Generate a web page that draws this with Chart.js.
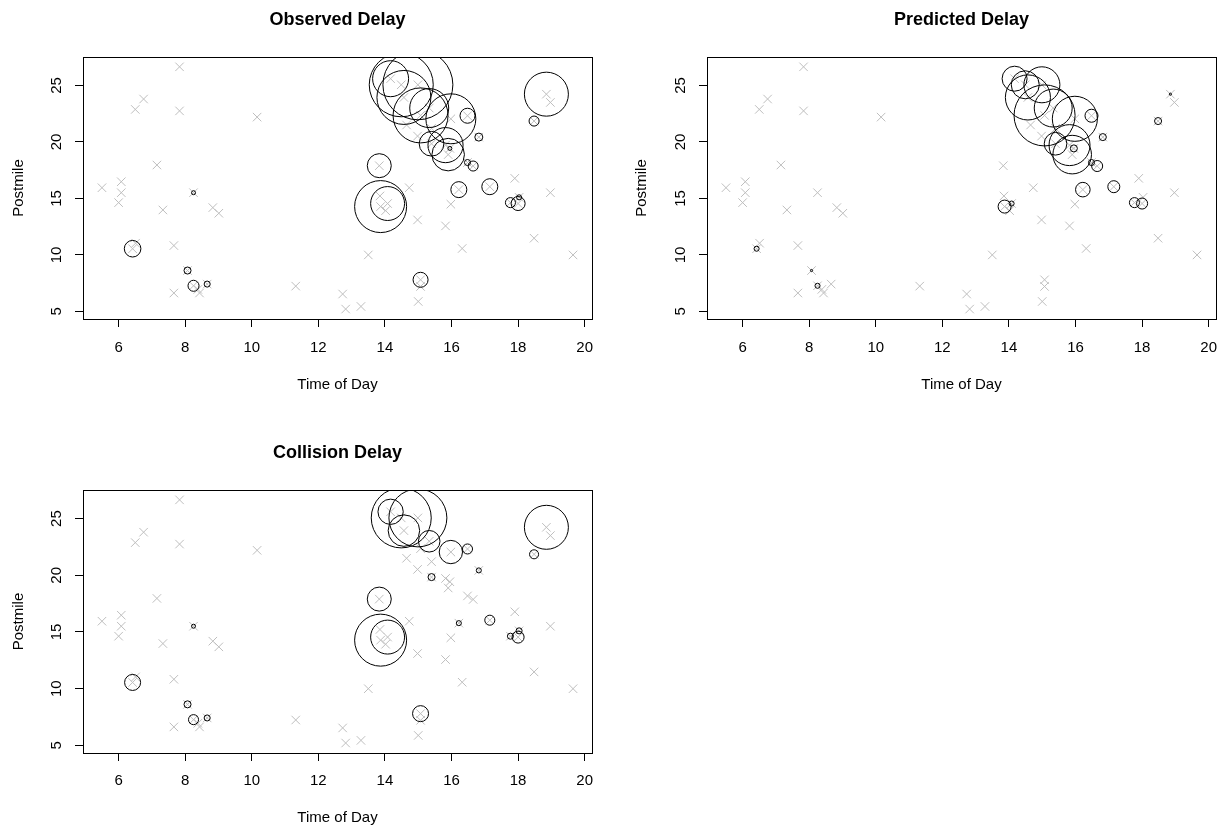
<!DOCTYPE html>
<html lang="en">
<head>
<meta charset="UTF-8">
<title>Observed, Predicted and Collision Delay</title>
<script src="https://cdn.jsdelivr.net/npm/chart.js"></script>
<style>
  body { margin: 0; background: #fff; overflow: hidden; }
  canvas { position: absolute; }
</style>
</head>
<body>
<canvas id="observed" width="610" height="414" style="left:0;top:0"></canvas>
<canvas id="predicted" width="611" height="414" style="left:610px;top:0"></canvas>
<canvas id="collision" width="610" height="414" style="left:0;top:414px"></canvas>
<script>
// incidents (grey x marks), same in every panel
const incidentTime = [
  5.50, 6.08, 6.08, 6.00, 6.50, 6.75, 7.83, 7.83, 7.15, 7.33,
  8.25, 8.83, 9.01, 6.42, 6.51, 7.66, 8.07, 8.25, 8.66, 7.66,
  8.43, 8.38, 11.32, 10.16, 12.73, 12.82, 13.28, 13.50, 15.07, 15.07,
  15.00, 13.83, 13.85, 13.87, 14.08, 14.02, 14.73, 14.98, 15.98, 15.82,
  16.32, 16.22, 17.15, 17.90, 17.77, 18.00, 18.03, 18.48, 18.97, 19.65,
  18.85, 18.97, 18.48, 16.82, 16.48, 16.65, 16.48, 15.95, 14.17, 14.49,
  14.99, 14.57, 15.33, 15.07, 14.65, 15.40, 14.98, 15.98, 15.40, 15.82, 15.90
];
const incidentPostmile = [
  15.95, 16.48, 15.51, 14.63, 22.88, 23.80, 26.65, 22.75, 17.96, 13.98,
  15.51, 14.19, 13.69, 10.55, 11.04, 10.83, 8.62, 7.27, 7.42, 6.63,
  6.63, 6.95, 7.24, 22.20, 6.54, 5.21, 5.44, 10.00, 7.80, 7.21,
  5.88, 17.90, 15.22, 14.28, 14.55, 13.92, 15.95, 13.10, 14.49, 12.57,
  10.57, 15.78, 16.04, 16.78, 14.63, 14.55, 15.10, 11.48, 15.51, 10.00,
  24.23, 23.50, 21.85, 20.43, 22.32, 17.87, 18.18, 19.43, 25.60, 25.06,
  25.06, 23.94, 23.00, 22.35, 21.50, 21.20, 20.52, 22.05, 19.84, 19.72, 18.88
];

// delay per incident (0 = no circle)
const observedDelay = [
  0, 0, 0, 0, 0, 0, 0, 0, 0, 0,
  1, 0, 0, 17.2, 0, 0, 3.1, 7.6, 2.3, 0,
  0, 0, 0, 0, 0, 0, 0, 0, 14.1, 0,
  0, 36, 0, 169, 72, 0, 0, 0, 0, 0,
  0, 16, 16, 0, 6.3, 12.3, 1.6, 0, 0, 0,
  121, 0, 6.3, 4, 14.1, 6.3, 2.3, 1, 81, 256,
  306, 182, 95, 189, 0, 0, 0, 156, 38, 77, 66
];
const predictedDelay = [
  0, 0, 0, 0, 0, 0, 0, 0, 0, 0,
  0, 0, 0, 1.6, 0, 0, 0.3, 1.6, 0, 0,
  0, 0, 0, 0, 0, 0, 0, 0, 0, 0,
  0, 0, 0, 10.6, 1.6, 0, 0, 0, 0, 0,
  0, 13.3, 9, 0, 6.3, 7.6, 0, 0, 0, 0,
  0.3, 0, 3.1, 3.1, 10.6, 7.6, 2.3, 3.1, 39, 49,
  81, 127, 90, 233, 0, 0, 0, 127, 32, 105, 93
];
const collisionDelay = [
  0, 0, 0, 0, 0, 0, 0, 0, 0, 0,
  1, 0, 0, 16, 0, 0, 3.1, 6.3, 2.3, 0,
  0, 0, 0, 0, 0, 0, 0, 0, 16, 0,
  0, 36, 0, 169, 72, 0, 0, 0, 0, 0,
  0, 1.6, 6.3, 0, 2.3, 9, 2.3, 0, 0, 0,
  121, 0, 5.1, 1.6, 6.3, 0, 0, 0, 40, 225,
  210, 62, 29, 0, 0, 0, 0, 34, 3.1, 0, 0
];

const xTicks = [6, 8, 10, 12, 14, 16, 18, 20];
const yTicks = [5, 10, 15, 20, 25];

const X_MIN = 4.93, X_MAX = 20.22;
const Y_MIN = 4.33, Y_MAX = 27.52;
const RADIUS_PER_ROOT = 2;   // circle radius (px) = 2 * sqrt(delay)
const FONT = '"Liberation Sans", Arial, Helvetica, sans-serif';
const TICK_LEN = 8;
const LABEL_HALF = 8.35;     // half width of "25" at 15px

const plotBox = {
  id: 'plotBox',
  afterDatasetsDraw(chart) {
    const a = chart.chartArea, ctx = chart.ctx;
    ctx.save();
    ctx.strokeStyle = '#000';
    ctx.lineWidth = 1;
    ctx.strokeRect(Math.round(a.left) + 0.5, Math.round(a.top) + 0.5,
      Math.round(a.right - a.left), Math.round(a.bottom - a.top));
    ctx.restore();
  }
};

function drawPanel(id, title, delay, g) {
  const W = g.width, H = g.height, a = g.area;
  const titleLH = 18 * 1.2, labelLH = 15 * 1.2;
  // x labels: no tick padding (it would widen the right margin), use line height instead
  const xLabelLH = 2 * (g.xLabelY - a.bottom - TICK_LEN);

  const crosses = incidentTime.map((t, i) => ({ x: t, y: incidentPostmile[i] }));
  const bubbles = [];
  delay.forEach((d, i) => {
    if (d > 0) bubbles.push({ x: incidentTime[i], y: incidentPostmile[i], r: RADIUS_PER_ROOT * Math.sqrt(d) });
  });

  new Chart(document.getElementById(id), {
    type: 'scatter',
    data: {
      datasets: [
        { type: 'bubble', data: bubbles, backgroundColor: 'rgba(0,0,0,0)',
          borderColor: '#000', borderWidth: 1, clip: 0 },
        { data: crosses, pointStyle: 'crossRot', pointRadius: 6,
          borderColor: '#bebebe', backgroundColor: '#bebebe', borderWidth: 1 }
      ]
    },
    options: {
      responsive: false,
      animation: false,
      events: [],
      layout: { autoPadding: false, padding: { left: 0, top: 0, right: W - a.right, bottom: 0 } },
      plugins: {
        legend: { display: false },
        tooltip: { enabled: false },
        title: {
          display: true, text: title, fullSize: false, color: '#000',
          font: { family: FONT, size: 18, weight: 'bold' },
          padding: { top: g.titleY - titleLH / 2, bottom: a.top - g.titleY - titleLH / 2 }
        }
      },
      scales: {
        x: {
          type: 'linear', min: X_MIN, max: X_MAX,
          afterBuildTicks: s => { s.ticks = xTicks.map(v => ({ value: v })); },
          afterFit: s => { s.height = H - a.bottom; },
          grid: { drawOnChartArea: false, drawTicks: true, tickLength: TICK_LEN, color: '#000' },
          border: { display: false },
          ticks: {
            color: '#000', autoSkip: false, maxRotation: 0, padding: 0,
            font: { family: FONT, size: 15, lineHeight: xLabelLH + 'px' }
          },
          title: {
            display: true, text: 'Time of Day', color: '#000',
            font: { family: FONT, size: 15 },
            padding: { top: 0, bottom: H - g.xTitleY - labelLH / 2 }
          }
        },
        y: {
          type: 'linear', min: Y_MIN, max: Y_MAX,
          afterBuildTicks: s => { s.ticks = yTicks.map(v => ({ value: v })); },
          afterFit: s => { s.width = a.left; },
          grid: { drawOnChartArea: false, drawTicks: true, tickLength: TICK_LEN, color: '#000' },
          border: { display: false },
          ticks: {
            color: '#000', minRotation: 90, maxRotation: 90, crossAlign: 'center',
            font: { family: FONT, size: 15 },
            padding: a.left - TICK_LEN - LABEL_HALF - g.yLabelX
          },
          title: {
            display: true, text: 'Postmile', color: '#000',
            font: { family: FONT, size: 15 },
            padding: { top: g.yTitleX - labelLH / 2, bottom: 0 }
          }
        }
      }
    },
    plugins: [plotBox]
  });
}

drawPanel('observed', 'Observed Delay', observedDelay, {
  width: 610, height: 414, area: { left: 83, top: 57, right: 592, bottom: 319 },
  titleY: 20, xLabelY: 348, xTitleY: 385, yLabelX: 57, yTitleX: 19
});
drawPanel('predicted', 'Predicted Delay', predictedDelay, {
  width: 611, height: 414, area: { left: 97, top: 57, right: 606, bottom: 319 },
  titleY: 20, xLabelY: 348, xTitleY: 385, yLabelX: 71, yTitleX: 32
});
drawPanel('collision', 'Collision Delay', collisionDelay, {
  width: 610, height: 414, area: { left: 83, top: 76, right: 592, bottom: 339 },
  titleY: 39, xLabelY: 367, xTitleY: 404, yLabelX: 57, yTitleX: 19
});
</script>
</body>
</html>
